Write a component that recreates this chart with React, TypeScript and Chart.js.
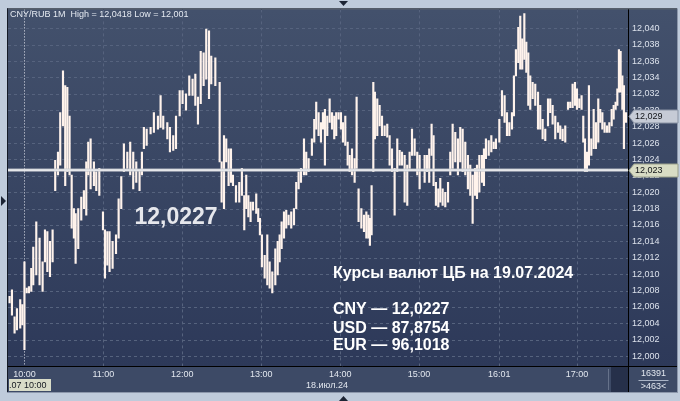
import React, { useEffect, useRef } from "react";
import { Chart, registerables } from "chart.js";
Chart.register(...registerables);

// ---- data: 1-minute CNY/RUB bars, minutes since 10:00 ----
const minutes = [
  -11.3, -9.5, -7.5, -5.7, -3.2, -1.6, 0, 1.7, 3.4, 5.2, 6.7, 9.0, 11.5, 13.8, 15.6, 17.4, 19.4, 21.4, 23.4, 25.5,
  27.2, 29.3, 31.0, 32.6, 34.3, 35.9, 37.6, 38.9, 40.9, 43.2, 45.2, 47.0, 48.5, 50.3, 52.8, 54.6, 56.9, 59.7, 61.2, 63.0,
  64.7, 67.0, 69.6, 71.6, 73.6, 75.6, 78.2, 80.4, 82.7, 85.0, 87.5, 89.3, 90.8, 92.9, 95.9, 98.4, 101.5, 103.5, 105.5, 108.6,
  110.6, 113.1, 115.2, 118.0, 120.2, 122.8, 125.3, 127.8, 129.9, 131.9, 134.0, 136.2, 138.2, 140.3, 142.0, 145.1, 148.4, 149.9, 151.7, 153.4,
  155.2, 157.0, 158.5, 160.8, 163.3, 165.3, 167.1, 168.6, 170.2, 171.9, 173.7, 176.2, 177.7, 179.0, 180.5, 182.6, 184.6, 186.4, 188.4, 190.7,
  192.5, 194.0, 195.5, 197.3, 199.0, 200.8, 202.8, 204.9, 206.6, 208.4, 210.2, 212.5, 214.2, 216.0, 218.5, 220.3, 221.8, 223.6, 225.4, 226.9,
  228.4, 230.2, 232.0, 233.8, 235.5, 237.0, 238.8, 240.6, 242.1, 243.9, 245.7, 247.2, 249.0, 251.0, 252.5, 254.0, 256.1, 258.1, 259.9, 261.4,
  262.6, 263.9, 265.2, 266.4, 268.2, 270.0, 271.8, 273.8, 275.8, 277.6, 279.4, 281.4, 283.4, 285.2, 287.0, 289.0, 291.0, 292.8, 294.6, 296.6,
  298.6, 300.4, 304.2, 306.0, 307.7, 309.5, 311.0, 312.8, 314.6, 316.1, 317.9, 319.9, 322.0, 323.7, 325.5, 327.5, 329.5, 331.3, 333.1, 335.1,
  337.1, 338.9, 340.7, 342.5, 344.0, 345.8, 347.8, 349.3, 350.8, 352.9, 354.9, 356.7, 358.4, 361.0, 363.0, 365.0, 366.8, 368.6, 370.6, 372.1,
  373.6, 375.4, 376.9, 378.4, 380.0, 381.5, 383.0, 384.5, 386.3, 388.3, 390.4, 392.1, 393.9, 395.9, 398.0, 399.7, 401.5, 403.5, 405.6, 407.3,
  409.1, 411.1, 413.2, 414.9, 416.7, 418.5, 420.0, 421.8, 423.5, 424.8, 426.1, 427.6, 429.1, 430.9, 432.7, 434.4, 436.2, 437.7, 439.3, 441.0,
  442.8, 444.6, 446.4, 447.9, 449.4, 450.7, 451.9, 453.2, 454.5, 455.7, 457.3,
];
const lows = [
  12.0065, 12.0050, 12.0028, 12.0032, 12.0034, 12.0038, 12.0008, 12.0077, 12.0077, 12.0079, 12.0087, 12.0099, 12.0087, 12.0079, 12.0115, 12.0103, 12.0097, 12.0115, 12.0202, 12.0221,
  12.0233, 12.0281, 12.0208, 12.0225, 12.0221, 12.0156, 12.0144, 12.0113, 12.0131, 12.0166, 12.0180, 12.0172, 12.0221, 12.0204, 12.0208, 12.0202, 12.0196, 12.0154, 12.0095, 12.0111,
  12.0103, 12.0107, 12.0125, 12.0144, 12.0180, 12.0225, 12.0229, 12.0221, 12.0204, 12.0212, 12.0202, 12.0221, 12.0253, 12.0257, 12.0271, 12.0273, 12.0277, 12.0279, 12.0277, 12.0265,
  12.0249, 12.0251, 12.0253, 12.0293, 12.0308, 12.0300, 12.0318, 12.0318, 12.0306, 12.0283, 12.0308, 12.0330, 12.0338, 12.0314, 12.0332, 12.0330, 12.0237, 12.0188, 12.0180, 12.0237,
  12.0208, 12.0212, 12.0208, 12.0188, 12.0188, 12.0196, 12.0154, 12.0180, 12.0170, 12.0164, 12.0178, 12.0174, 12.0164, 12.0148, 12.0109, 12.0095, 12.0087, 12.0083, 12.0077, 12.0087,
  12.0099, 12.0115, 12.0131, 12.0144, 12.0156, 12.0160, 12.0156, 12.0160, 12.0180, 12.0204, 12.0212, 12.0221, 12.0221, 12.0225, 12.0245, 12.0261, 12.0277, 12.0269, 12.0261, 12.0277,
  12.0233, 12.0269, 12.0285, 12.0277, 12.0265, 12.0269, 12.0289, 12.0277, 12.0261, 12.0257, 12.0233, 12.0225, 12.0221, 12.0212, 12.0229, 12.0164, 12.0156, 12.0152, 12.0144, 12.0144,
  12.0135, 12.0148, 12.0225, 12.0265, 12.0269, 12.0281, 12.0269, 12.0269, 12.0267, 12.0233, 12.0225, 12.0172, 12.0225, 12.0233, 12.0233, 12.0188, 12.0184, 12.0229, 12.0245, 12.0245,
  12.0221, 12.0204, 12.0212, 12.0225, 12.0212, 12.0245, 12.0208, 12.0184, 12.0182, 12.0188, 12.0184, 12.0182, 12.0188, 12.0221, 12.0229, 12.0237, 12.0221, 12.0237, 12.0225, 12.0221,
  12.0204, 12.0196, 12.0162, 12.0196, 12.0192, 12.0200, 12.0212, 12.0208, 12.0241, 12.0245, 12.0249, 12.0253, 12.0253, 12.0261, 12.0293, 12.0285, 12.0269, 12.0269, 12.0277, 12.0293,
  12.0342, 12.0358, 12.0350, 12.0350, 12.0362, 12.0346, 12.0306, 12.0301, 12.0314, 12.0306, 12.0277, 12.0277, 12.0265, 12.0263, 12.0281, 12.0297, 12.0283, 12.0265, 12.0273, 12.0265,
  12.0263, 12.0261, 12.0301, 12.0303, 12.0303, 12.0306, 12.0301, 12.0303, 12.0301, 12.0261, 12.0225, 12.0225, 12.0233, 12.0245, 12.0253, 12.0253, 12.0261, 12.0285, 12.0277, 12.0273,
  12.0273, 12.0273, 12.0281, 12.0289, 12.0301, 12.0306, 12.0322, 12.0322, 12.0301, 12.0253, 12.0285,
];
const highs = [
  12.0073, 12.0081, 12.0048, 12.0058, 12.0069, 12.0063, 12.0115, 12.0083, 12.0085, 12.0107, 12.0133, 12.0164, 12.0144, 12.0115, 12.0154, 12.0152, 12.0140, 12.0154, 12.0239, 12.0249,
  12.0297, 12.0348, 12.0330, 12.0328, 12.0293, 12.0221, 12.0180, 12.0174, 12.0180, 12.0194, 12.0202, 12.0237, 12.0261, 12.0265, 12.0237, 12.0225, 12.0229, 12.0176, 12.0154, 12.0152,
  12.0152, 12.0140, 12.0148, 12.0192, 12.0219, 12.0259, 12.0249, 12.0261, 12.0249, 12.0237, 12.0227, 12.0249, 12.0279, 12.0277, 12.0279, 12.0297, 12.0293, 12.0318, 12.0293, 12.0285,
  12.0279, 12.0269, 12.0293, 12.0324, 12.0324, 12.0320, 12.0342, 12.0338, 12.0344, 12.0316, 12.0372, 12.0370, 12.0399, 12.0397, 12.0366, 12.0364, 12.0334, 12.0237, 12.0269, 12.0265,
  12.0253, 12.0253, 12.0221, 12.0208, 12.0212, 12.0229, 12.0196, 12.0221, 12.0196, 12.0188, 12.0188, 12.0198, 12.0180, 12.0168, 12.0148, 12.0123, 12.0148, 12.0115, 12.0103, 12.0131,
  12.0140, 12.0148, 12.0164, 12.0176, 12.0178, 12.0172, 12.0176, 12.0180, 12.0212, 12.0225, 12.0229, 12.0265, 12.0249, 12.0241, 12.0265, 12.0289, 12.0310, 12.0297, 12.0285, 12.0297,
  12.0301, 12.0293, 12.0314, 12.0297, 12.0293, 12.0297, 12.0297, 12.0297, 12.0285, 12.0293, 12.0261, 12.0245, 12.0253, 12.0241, 12.0316, 12.0204, 12.0180, 12.0172, 12.0176, 12.0172,
  12.0168, 12.0208, 12.0334, 12.0322, 12.0314, 12.0306, 12.0293, 12.0281, 12.0283, 12.0269, 12.0253, 12.0229, 12.0265, 12.0251, 12.0249, 12.0245, 12.0233, 12.0249, 12.0277, 12.0265,
  12.0249, 12.0245, 12.0245, 12.0245, 12.0253, 12.0283, 12.0269, 12.0212, 12.0204, 12.0217, 12.0204, 12.0200, 12.0212, 12.0249, 12.0283, 12.0273, 12.0265, 12.0279, 12.0277, 12.0261,
  12.0245, 12.0233, 12.0221, 12.0229, 12.0233, 12.0245, 12.0245, 12.0253, 12.0265, 12.0263, 12.0269, 12.0261, 12.0265, 12.0289, 12.0324, 12.0318, 12.0297, 12.0285, 12.0297, 12.0342,
  12.0374, 12.0401, 12.0415, 12.0387, 12.0418, 12.0383, 12.0370, 12.0342, 12.0334, 12.0332, 12.0322, 12.0306, 12.0289, 12.0277, 12.0314, 12.0314, 12.0306, 12.0293, 12.0285, 12.0281,
  12.0277, 12.0281, 12.0310, 12.0310, 12.0332, 12.0334, 12.0326, 12.0314, 12.0318, 12.0293, 12.0265, 12.0249, 12.0330, 12.0265, 12.0301, 12.0285, 12.0314, 12.0301, 12.0297, 12.0285,
  12.0281, 12.0285, 12.0301, 12.0306, 12.0310, 12.0326, 12.0374, 12.0372, 12.0342, 12.0330, 12.0297,
];

const yTicks = [
  12.0, 12.002, 12.004, 12.006, 12.008, 12.01, 12.012, 12.014, 12.016, 12.018, 12.02,
  12.022, 12.024, 12.026, 12.028, 12.03, 12.032, 12.034, 12.036, 12.038, 12.04,
];
const xTickMinutes = [0, 60, 120, 180, 240, 300, 361, 420];
const xTickLabels = ["10:00", "11:00", "12:00", "13:00", "14:00", "15:00", "16:01", "17:00"];

const chartTitle = "CNY/RUB 1M  High = 12,0418 Low = 12,001";
const refRate = 12.0227;
const refRateText = "12,0227";
const refLabel = "12,023";
const lastPrice = 12.0293;
const lastLabel = "12,029";
const infoTitle = "Курсы валют ЦБ на 19.07.2024";
const infoLines = ["CNY — 12,0227", "USD — 87,8754", "EUR — 96,1018"];
const sessionStartText = ".07 10:00";
const dateText = "18.июл.24";
const barCountText = "16391";
const visibleText = ">463<";

const X_MIN = -12.5;
const X_MAX = 458.8;
const Y_MIN = 11.9988;
const Y_MAX = 12.0423;

const FAM = '"Liberation Sans", Arial, sans-serif';

function hline(ctx: CanvasRenderingContext2D, x1: number, x2: number, y: number) {
  ctx.beginPath();
  ctx.moveTo(x1, y);
  ctx.lineTo(x2, y);
  ctx.stroke();
}
function vline(ctx: CanvasRenderingContext2D, x: number, y1: number, y2: number) {
  ctx.beginPath();
  ctx.moveTo(x, y1);
  ctx.lineTo(x, y2);
  ctx.stroke();
}

function priceTag(ctx: CanvasRenderingContext2D, x: number, yc: number, w: number, fill: string, stroke: string, text: string) {
  ctx.beginPath();
  ctx.moveTo(x, yc);
  ctx.lineTo(x + 5, yc - 6.5);
  ctx.lineTo(x + w, yc - 6.5);
  ctx.lineTo(x + w, yc + 6.5);
  ctx.lineTo(x + 5, yc + 6.5);
  ctx.closePath();
  ctx.fillStyle = fill;
  ctx.fill();
  ctx.strokeStyle = stroke;
  ctx.lineWidth = 1;
  ctx.stroke();
  ctx.fillStyle = "#111418";
  ctx.font = `9px ${FAM}`;
  ctx.textAlign = "left";
  ctx.textBaseline = "middle";
  ctx.fillText(text, x + 6, yc + 0.5);
}

const decorPlugin = {
  id: "decor",
  beforeDraw(chart: any) {
    const { ctx, chartArea: a, scales } = chart;
    const W = chart.width;
    const H = chart.height;
    const pr = W - 3;
    const pb = H - 9;
    ctx.save();
    ctx.fillStyle = "#bfcbdb";
    ctx.fillRect(0, 0, W, H);
    const g = ctx.createLinearGradient(0, a.top, 0, a.bottom);
    g.addColorStop(0, "#43516c");
    g.addColorStop(1, "#2d3959");
    ctx.fillStyle = g;
    ctx.fillRect(a.left, a.top, pr - a.left, a.bottom - a.top);
    ctx.fillStyle = "#3d4a66";
    ctx.fillRect(a.left, a.bottom, pr - a.left, pb - a.bottom);
    // scroll box
    ctx.fillStyle = "#26304a";
    ctx.fillRect(611, a.bottom + 1, a.right - 611, pb - a.bottom - 1);
    ctx.fillStyle = "#66728a";
    ctx.fillRect(608, a.bottom + 3, 1, pb - a.bottom - 5);
    // grid
    ctx.strokeStyle = "#56637e";
    ctx.lineWidth = 1;
    ctx.setLineDash([3, 3]);
    for (const t of yTicks) {
      const y = Math.round(scales.y.getPixelForValue(t)) + 0.5;
      hline(ctx, a.left, a.right, y);
    }
    for (const m of xTickMinutes) {
      if (m === 0) continue;
      const x = Math.round(scales.x.getPixelForValue(m)) + 0.5;
      vline(ctx, x, a.top, a.bottom);
    }
    ctx.strokeStyle = "#e6e8f0";
    ctx.setLineDash([1, 2]);
    const x0 = Math.round(scales.x.getPixelForValue(0)) + 0.5;
    vline(ctx, x0, a.top, a.bottom);
    ctx.restore();
  },
  afterDatasetsDraw(chart: any) {
    const { ctx, chartArea: a, scales } = chart;
    ctx.save();
    const yr = scales.y.getPixelForValue(refRate);
    ctx.fillStyle = "#c4c7ce";
    ctx.fillRect(a.left, yr - 1.5, a.right - a.left, 3);
    ctx.fillStyle = "#ffffff";
    ctx.fillRect(a.left, yr - 0.5, a.right - a.left, 1);

    ctx.textBaseline = "middle";
    ctx.textAlign = "left";
    ctx.fillStyle = "#e4e9f1";
    ctx.font = `9px ${FAM}`;
    ctx.fillText(chartTitle, 10, 15);

    ctx.font = `bold 23px ${FAM}`;
    ctx.textAlign = "center";
    ctx.fillStyle = "#e6e7ec";
    ctx.fillText(refRateText, 176, 218);

    ctx.textAlign = "left";
    ctx.fillStyle = "#ffffff";
    ctx.font = `bold 16px ${FAM}`;
    ctx.fillText(infoTitle, 333, 274);
    const ys = [310, 328.5, 346];
    infoLines.forEach((t, i) => ctx.fillText(t, 333, ys[i]));
    ctx.restore();
  },
  afterDraw(chart: any) {
    const { ctx, chartArea: a, scales } = chart;
    const W = chart.width;
    const H = chart.height;
    const pr = W - 3;
    const pb = H - 9;
    ctx.save();
    // borders
    ctx.strokeStyle = "#141a26";
    ctx.lineWidth = 1;
    hline(ctx, a.left - 1, pr, a.top - 0.5);
    vline(ctx, a.left - 0.5, a.top - 1, pb);
    ctx.strokeStyle = "#000000";
    vline(ctx, a.right + 0.5, a.top, pb);
    hline(ctx, a.left, pr, a.bottom + 0.5);
    ctx.strokeStyle = "#8c97ab";
    hline(ctx, a.left - 1, pr, pb + 0.5);
    vline(ctx, pr + 0.5, a.top - 1, pb + 1);

    // price tags
    priceTag(ctx, a.right + 1, Math.round(scales.y.getPixelForValue(lastPrice)) + 0.5, 49, "#c6cbd6", "#8a93a4", lastLabel);
    priceTag(ctx, a.right + 1, Math.round(scales.y.getPixelForValue(refRate)) + 0.5, 49, "#d8dcc4", "#9aa08a", refLabel);

    // footer
    ctx.font = `9px ${FAM}`;
    ctx.textBaseline = "middle";
    ctx.fillStyle = "#d9dcc8";
    ctx.fillRect(a.left + 1, a.bottom + 13, 42, 12);
    ctx.fillStyle = "#141820";
    ctx.textAlign = "left";
    ctx.fillText(sessionStartText, a.left + 1, a.bottom + 19.5);
    ctx.fillStyle = "#e2e7ef";
    ctx.textAlign = "center";
    ctx.fillText(dateText, 327, a.bottom + 19.5);
    const cx = (a.right + pr) / 2 + 1;
    ctx.fillText(barCountText, cx, a.bottom + 8);
    ctx.fillText(visibleText, cx, a.bottom + 20.5);
    ctx.strokeStyle = "#aab4c6";
    hline(ctx, cx - 15, cx + 15, a.bottom + 14.5);

    // small markers
    ctx.fillStyle = "#1c2434";
    ctx.beginPath();
    ctx.moveTo(339, 1);
    ctx.lineTo(348, 1);
    ctx.lineTo(343.5, 6);
    ctx.closePath();
    ctx.fill();
    ctx.beginPath();
    ctx.moveTo(339, H);
    ctx.lineTo(348, H);
    ctx.lineTo(343.5, H - 5);
    ctx.closePath();
    ctx.fill();
    ctx.beginPath();
    ctx.moveTo(1, 196);
    ctx.lineTo(6, 201);
    ctx.lineTo(1, 206);
    ctx.closePath();
    ctx.fill();
    ctx.restore();
  },
};

export default function App() {
  const ref = useRef<HTMLCanvasElement | null>(null);
  useEffect(() => {
    document.body.style.margin = "0";
    const canvas = ref.current;
    if (!canvas) return;
    const points = minutes.map((m, i) => ({ x: m, y: [lows[i], highs[i]] }));
    const chart = new Chart(canvas, {
      type: "bar",
      data: {
        datasets: [
          {
            data: points as any,
            backgroundColor: "#fff3ec",
            borderWidth: 0,
            barThickness: 1.5,
            minBarLength: 2,
          },
        ],
      },
      options: {
        animation: false,
        responsive: false,
        devicePixelRatio: 1,
        layout: { padding: { left: 8, top: 8, right: 0, bottom: 0 } },
        plugins: { legend: { display: false }, tooltip: { enabled: false } },
        scales: {
          x: {
            type: "linear",
            min: X_MIN,
            max: X_MAX,
            offset: false,
            grid: { display: false, drawTicks: false },
            border: { display: false },
            afterBuildTicks: (s: any) => {
              s.ticks = xTickMinutes.map((v) => ({ value: v }));
            },
            afterFit: (s: any) => {
              s.height = 35;
            },
            ticks: {
              autoSkip: false,
              maxRotation: 0,
              minRotation: 0,
              padding: 3,
              color: "#e2e7ef",
              font: { family: FAM, size: 9 },
              callback: (_v: any, i: number) => xTickLabels[i],
            },
          },
          y: {
            type: "linear",
            position: "right",
            min: Y_MIN,
            max: Y_MAX,
            grid: { display: false, drawTicks: false },
            border: { display: false },
            afterBuildTicks: (s: any) => {
              s.ticks = yTicks.map((v) => ({ value: v }));
            },
            afterFit: (s: any) => {
              s.width = 52;
            },
            ticks: {
              padding: 4,
              color: "#dce2ec",
              font: { family: FAM, size: 9 },
              callback: (v: any) => Number(v).toFixed(3).replace(".", ","),
            },
          },
        },
      },
      plugins: [decorPlugin],
    } as any);
    return () => chart.destroy();
  }, []);
  return <canvas ref={ref} width={680} height={401} style={{ display: "block" }} />;
}
